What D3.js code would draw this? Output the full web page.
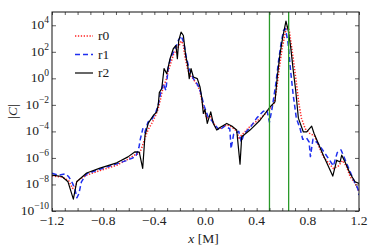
<!DOCTYPE html>
<html>
<head>
<meta charset="utf-8">
<script src="https://cdn.jsdelivr.net/npm/d3@7"></script>
<style>
  body { margin: 0; background: #fff; }
  svg text { font-family: "Liberation Serif", serif; fill: #222; }
</style>
</head>
<body>
<svg id="chart" width="374" height="249"></svg>
<script>
// tick labels
const xTickLabels = [-1.2, -0.8, -0.4, 0.0, 0.4, 0.8, 1.2];
const yTickExps = [-10, -8, -6, -4, -2, 0, 2, 4];
// vertical green markers
const markerX = [0.5, 0.65];
const seriesNames = ["r0", "r1", "r2"];

// values, stored as log10 |C|
const xR0 = [-1.2, -1.12, -1.07, -1.04, -1.02, -1.0, -0.93, -0.825, -0.694, -0.606, -0.55, -0.52, -0.5, -0.48, -0.45,
  -0.42, -0.39, -0.37, -0.35, -0.33, -0.31, -0.29, -0.27, -0.25, -0.23, -0.21, -0.19, -0.175, -0.16, -0.14, -0.12,
  -0.1, -0.07, -0.045, -0.03, -0.01, 0.01, 0.04, 0.06, 0.09, 0.12, 0.17, 0.21, 0.245, 0.265, 0.28, 0.35, 0.43, 0.5,
  0.54, 0.56, 0.58, 0.6, 0.625, 0.64, 0.655, 0.67, 0.69, 0.71, 0.73, 0.75, 0.78, 0.82, 0.85, 0.92, 1.0, 1.04, 1.07,
  1.1, 1.13, 1.17, 1.2];
const logR0 = [-7.35, -7.45, -7.7, -8.3, -8.2, -7.7, -7.3, -6.95, -6.55, -6.1, -5.75, -5.7, -5.3, -4.7, -3.9,
  -3.4, -2.8, -2.3, -1.5, -0.6, -0.2, 0.6, 1.2, 1.8, 2.1, 2.4, 2.8, 2.6, 1.6, 0.7, 0.2,
  0.0, -0.4, -0.9, -1.6, -2.4, -3.0, -2.9, -3.3, -3.8, -3.75, -3.5, -3.7, -4.0, -4.6, -4.3, -3.6, -3.0, -2.4,
  -1.8, -0.5, 1.0, 2.3, 3.5, 3.9, 3.6, 2.6, 1.2, -0.3, -1.9, -3.0, -3.8, -4.2, -4.3, -5.9, -6.8, -6.6, -6.2,
  -6.6, -7.4, -7.9, -8.5];

const xR1 = [-1.2, -1.15, -1.1, -1.07, -1.04, -1.02, -1.005, -0.99, -0.97, -0.93, -0.825, -0.694, -0.62, -0.57, -0.545,
  -0.52, -0.51, -0.49, -0.475, -0.45, -0.42, -0.39, -0.37, -0.35, -0.33, -0.31, -0.29, -0.27, -0.25, -0.23, -0.21,
  -0.19, -0.17, -0.15, -0.13, -0.11, -0.09, -0.06, -0.04, -0.01, 0.02, 0.05, 0.08, 0.11, 0.15, 0.19, 0.2, 0.22,
  0.26, 0.28, 0.3, 0.35, 0.4, 0.45, 0.48, 0.5, 0.52, 0.55, 0.57, 0.59, 0.61, 0.625, 0.645, 0.665, 0.685, 0.71,
  0.74, 0.76, 0.79, 0.81, 0.82, 0.84, 0.88, 0.93, 1.0, 1.03, 1.06, 1.09, 1.12, 1.16, 1.19, 1.2];
const logR1 = [-7.15, -7.3, -7.2, -7.4, -7.9, -8.4, -9.0, -8.7, -7.8, -7.2, -6.85, -6.45, -6.2, -6.0, -5.9,
  -5.2, -4.6, -3.8, -4.1, -3.3, -3.1, -2.6, -2.0, -1.1, -0.4, -0.9, 0.9, 1.6, 2.0, 2.4, 2.9,
  3.2, 2.7, 1.6, 0.8, 0.3, -0.1, -0.5, -1.0, -2.1, -2.9, -3.2, -3.6, -3.9, -3.6, -3.8, -5.3, -4.2,
  -4.0, -4.8, -4.2, -3.7, -3.0, -2.5, -2.4, -3.3, -2.3, -0.4, 1.2, 2.6, 3.6, 3.75, 2.7, 0.6, -1.2, -3.0,
  -3.8, -4.6, -4.5, -4.8, -5.9, -4.6, -4.9, -5.6, -6.6, -5.6, -5.4, -6.1, -6.8, -7.7, -8.3, -8.8];

const xR2 = [-1.2, -1.122, -1.075, -1.033, -1.007, -0.929, -0.825, -0.694, -0.606, -0.551, -0.518, -0.491, -0.473,
  -0.447, -0.408, -0.381, -0.369, -0.361, -0.342, -0.324, -0.303, -0.277, -0.252, -0.231, -0.22, -0.209, -0.191,
  -0.173, -0.155, -0.139, -0.127, -0.113, -0.095, -0.064, -0.043, -0.03, -0.017, -0.004, 0.014, 0.041, 0.061,
  0.088, 0.113, 0.166, 0.205, 0.244, 0.27, 0.283, 0.348, 0.426, 0.504, 0.543, 0.561, 0.583, 0.604, 0.629, 0.647,
  0.666, 0.686, 0.705, 0.726, 0.765, 0.791, 0.83, 0.848, 0.921, 0.995, 1.026, 1.052, 1.065, 1.091, 1.13, 1.169, 1.2];
const logR2 = [-7.3, -7.4, -7.8, -9.1, -7.8, -7.14, -6.77, -6.37, -5.92, -5.54, -5.56, -6.79, -4.29,
  -3.38, -2.8, -2.53, -1.97, -1.08, -0.77, 0.73, 0.35, 1.48, 2.23, 2.48, 1.48, 2.86, 3.48,
  3.23, 1.73, 0.98, -0.02, 0.73, 0.1, -0.02, -0.65, -1.4, -2.65, -2.35, -3.4, -2.53, -3.4,
  -3.9, -3.7, -3.4, -3.59, -3.9, -6.47, -4.41, -3.9, -3.16, -2.16, -1.78, 0.1, 1.86, 3.11, 4.31, 3.6,
  2.35, 0.6, -0.9, -3.0, -4.04, -4.04, -3.6, -4.14, -5.79, -7.37, -6.17, -6.3, -5.79, -6.3, -7.17, -7.8, -7.92];

const styles = [
  { color: "#f22", width: 1.5, dash: "1.3,1.6" },
  { color: "#1f2ff0", width: 1.5, dash: "5,3" },
  { color: "#000", width: 1.2, dash: null }
];

const svg = d3.select("#chart");
const plotLeft = 52, plotRight = 359, plotTop = 12, plotBottom = 211;

const x = d3.scaleLinear().domain([-1.2, 1.2]).range([plotLeft, plotRight]);
const y = d3.scaleLog().domain([1e-10, 1e5]).range([plotBottom, plotTop]);

svg.append("clipPath").attr("id", "clip")
  .append("rect").attr("x", plotLeft).attr("y", plotTop)
  .attr("width", plotRight - plotLeft).attr("height", plotBottom - plotTop);

// curves
const series = [
  xR0.map((d, i) => [d, Math.pow(10, logR0[i])]),
  xR1.map((d, i) => [d, Math.pow(10, logR1[i])]),
  xR2.map((d, i) => [d, Math.pow(10, logR2[i])])
];
const line = d3.line().x(d => x(d[0])).y(d => y(d[1]));

const plot = svg.append("g").attr("clip-path", "url(#clip)");
series.forEach((s, i) => {
  plot.append("path")
    .datum(s)
    .attr("d", line)
    .attr("fill", "none")
    .attr("stroke", styles[i].color)
    .attr("stroke-width", styles[i].width)
    .attr("stroke-dasharray", styles[i].dash)
    .attr("stroke-linejoin", "round");
});

// green markers
plot.selectAll(".marker")
  .data(markerX)
  .enter()
  .append("line")
  .attr("x1", d => x(d)).attr("x2", d => x(d))
  .attr("y1", plotTop).attr("y2", plotBottom)
  .attr("stroke", "#2a9a2a")
  .attr("stroke-width", 1.3);

// axes, ticks pointing inward
const xMinor = d3.range(-12, 13).map(d => d / 10);
const yTicks = yTickExps.map(e => Math.pow(10, e));

svg.append("g").attr("transform", `translate(0,${plotBottom})`)
  .call(d3.axisBottom(x).tickValues(xMinor).tickSize(-3).tickFormat(""))
  .call(g => g.select(".domain").remove());
svg.append("g").attr("transform", `translate(0,${plotTop})`)
  .call(d3.axisTop(x).tickValues(xMinor).tickSize(-3).tickFormat(""))
  .call(g => g.select(".domain").remove());
svg.append("g").attr("transform", `translate(${plotLeft},0)`)
  .call(d3.axisLeft(y).tickValues(yTicks).tickSize(-4).tickFormat(""))
  .call(g => g.select(".domain").remove());
svg.append("g").attr("transform", `translate(${plotRight},0)`)
  .call(d3.axisRight(y).tickValues(yTicks).tickSize(-4).tickFormat(""))
  .call(g => g.select(".domain").remove());
svg.selectAll(".tick line").attr("stroke", "#333").attr("stroke-width", 0.8);

svg.append("rect")
  .attr("x", plotLeft).attr("y", plotTop)
  .attr("width", plotRight - plotLeft).attr("height", plotBottom - plotTop)
  .attr("fill", "none").attr("stroke", "#111").attr("stroke-width", 1);

// x tick labels
svg.selectAll(".xlab")
  .data(xTickLabels)
  .enter()
  .append("text")
  .attr("x", d => x(d))
  .attr("y", plotBottom + 14)
  .attr("text-anchor", "middle")
  .attr("font-size", 13.5)
  .text(d => (d < 0 ? "\u2212" : "") + Math.abs(d).toFixed(1));

// y tick labels with superscripts
const ylab = svg.selectAll(".ylab")
  .data(yTickExps)
  .enter()
  .append("text")
  .attr("x", plotLeft - 3)
  .attr("y", d => y(Math.pow(10, d)) + 4)
  .attr("text-anchor", "end")
  .attr("font-size", 13.5);
ylab.append("tspan").text("10");
ylab.append("tspan")
  .attr("dy", -6)
  .attr("font-size", 9.5)
  .text(d => (d < 0 ? "\u2212" : "") + Math.abs(d));

// axis titles
svg.append("text")
  .attr("x", (plotLeft + plotRight) / 2 - 2)
  .attr("y", 243)
  .attr("text-anchor", "middle")
  .attr("font-size", 13.5)
  .html('<tspan font-style="italic">x</tspan> [M]');

svg.append("text")
  .attr("transform", `translate(17,${(plotTop + plotBottom) / 2}) rotate(-90)`)
  .attr("text-anchor", "middle")
  .attr("font-size", 13.5)
  .html('|<tspan font-style="italic">C</tspan>|');

// legend
const legend = svg.append("g");
seriesNames.forEach((name, i) => {
  const ly = 36 + i * 18.5;
  legend.append("line")
    .attr("x1", 75).attr("x2", 93)
    .attr("y1", ly).attr("y2", ly)
    .attr("stroke", styles[i].color)
    .attr("stroke-width", styles[i].width)
    .attr("stroke-dasharray", styles[i].dash);
  legend.append("text")
    .attr("x", 98).attr("y", ly + 4)
    .attr("font-size", 13.5)
    .text(name);
});
</script>
</body>
</html>
